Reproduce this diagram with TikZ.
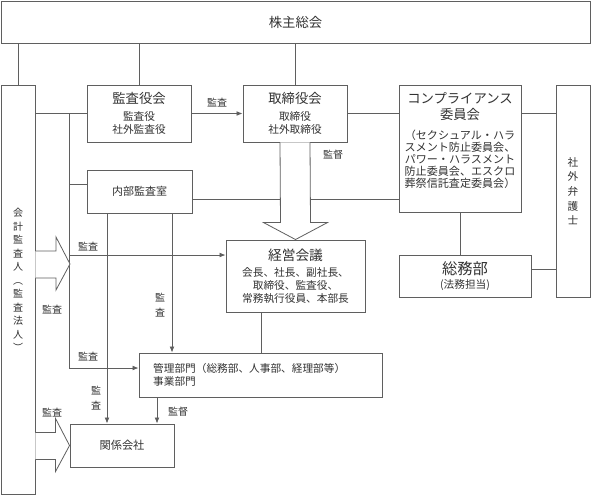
\documentclass[tikz,border=0pt]{standalone}
\usepackage{fontspec}
\setmainfont{Noto Sans CJK JP}
\usetikzlibrary{arrows.meta,calc}
\definecolor{linegray}{RGB}{95,95,95}
\definecolor{textgray}{RGB}{50,50,50}
\tikzset{
  box/.style={draw=linegray, line width=0.7pt, fill=white, inner sep=0pt, align=center,
              text=textgray, font=\fontsize{8}{9.75}\selectfont},
  link/.style={draw=linegray, line width=0.6pt},
  arrow/.style={link, -{Latex[length=4.5pt,width=3.6pt]}},
  hollow/.style={draw=linegray, line width=0.6pt, fill=white},
  tag/.style={text=textgray, font=\fontsize{7.5}{9}\selectfont, inner sep=0pt},
  vtext/.style={text=textgray, align=center, inner sep=0pt}
}
% box given by its corners, in pixels of the drawing
\newcommand{\orgbox}[7][]{%
  \node[box, minimum width={(#5-#3)*0.75pt}, minimum height={(#6-#4)*0.75pt}, #1]
    (#2) at ({(#3+#5)/2},{(#4+#6)/2}) {#7};}

\begin{document}
\begin{tikzpicture}[x=0.75pt, y=-0.75pt]
\useasboundingbox (0,0) rectangle (591,496);

% boxes
\orgbox{top}{1}{1}{590}{43}{\fontsize{10}{12}\selectfont 株主総会}
\orgbox{cpa}{1}{85}{35}{494}{}
\orgbox{kansa}{87}{85}{191}{142}{{\fontsize{10}{12}\selectfont 監査役会}\\[3pt]監査役\\社外監査役}
\orgbox{board}{243}{85}{347}{142}{{\fontsize{10}{12}\selectfont 取締役会}\\[3pt]取締役\\社外取締役}
\orgbox{comp}{399}{85}{521}{212}{}
\orgbox[font=\fontsize{8}{11}\selectfont]{lawyer}{556}{85}{590}{297}{社\\外\\弁\\護\\士}
\orgbox[font=\fontsize{8.25}{10}\selectfont]{audit}{87}{170}{192}{213}{内部監査室}
\orgbox{mgmt}{226}{240}{365}{312}{{\fontsize{10.3}{12}\selectfont 経営会議}\\[2.5pt]会長、社長、副社長、\\取締役、監査役、\\常務執行役員、本部長}
\orgbox{soumu}{399}{255}{531}{297}{{\fontsize{11.5}{13}\selectfont 総務部}\\[1pt](法務担当)}
\orgbox[align=left, text width=161pt, inner xsep=10.5pt]{dept}{139}{353}{382}{397}{管理部門（総務部、人事部、経理部等）\\事業部門}
\orgbox[font=\fontsize{8.4}{10}\selectfont]{affil}{70}{424}{174}{467}{関係会社}

% texts standing apart from their box centre
\node[vtext, font=\fontsize{7.5}{10.1}\selectfont] (cpatext) at (18,280)
  {会\\計\\監\\査\\人\\︵\\監\\査\\法\\人\\︶};
\node[vtext, font=\fontsize{10}{12}\selectfont] (comptitle) at (460,107)
  {コンプライアンス\\委員会};
\node[vtext, font=\fontsize{8.3}{9}\selectfont] (compnote) at (460,159)
  {（セクシュアル・ハラ\\スメント防止委員会、\\パワー・ハラスメント\\防止委員会、エスクロ\\葬祭信託査定委員会）};

% connectors
\draw[link] (cpa.north) -- (cpa.north |- top.south);
\draw[link] (kansa.north) -- (kansa.north |- top.south);
\draw[link] (board.north) -- (board.north |- top.south);
\draw[link] (cpa.east |- kansa.west) -- (kansa.west);
\draw[arrow] (kansa.east) -- (board.west);
\draw[link] (board.east) -- (comp.west |- board.east);
\draw[link] (comp.east |- board.east) -- (lawyer.west |- board.east);

\coordinate (spine) at (affil.west |- kansa.west);
\draw[link] (spine) |- ($(audit.west)+(0,-7.5)$);
\draw[arrow] (spine) |- ($(mgmt.west)+(0,-21)$);
\draw[arrow] (spine) |- ($(dept.west)+(0,-7)$);

\coordinate (auditR) at ($(audit.east)+(0,7.5)$);
\draw[link] (auditR) -- (auditR -| comp.west);
\coordinate (auditL) at ($(audit.south)+(-32.5,0)$);
\coordinate (auditM) at ($(audit.south)+(32.5,0)$);
\draw[arrow] (auditL) -- (auditL |- affil.north);
\draw[arrow] (auditM) -- (auditM |- dept.north);
\coordinate (mgmtB) at ($(mgmt.south)+(-34.5,0)$);
\draw[link] (mgmtB) -- (mgmtB |- dept.north);
\coordinate (deptB) at ($(affil.north)+(35,0)$);
\draw[arrow] (deptB |- dept.south) -- (deptB);
\draw[link] (comp.south) -- (comp.south |- soumu.north);
\coordinate (soumuR) at ($(soumu.east)+(0,-7)$);
\draw[link] (soumuR) -- (soumuR -| lawyer.west);

% hollow arrows
\filldraw[hollow] ($(board.south)+(-15,0)$) -- ($(mgmt.north)+(-15,-17)$) -- ($(mgmt.north)+(-32,-17)$)
  -- (mgmt.north) -- ($(mgmt.north)+(32,-17)$) -- ($(mgmt.north)+(15,-17)$) -- ($(board.south)+(15,0)$);
\coordinate (tipA) at (70,264);
\filldraw[hollow] ($(cpa.east |- tipA)+(0,-13)$) -- ($(tipA)+(-14,-13)$) -- ($(tipA)+(-14,-27)$)
  -- (tipA) -- ($(tipA)+(-14,26)$) -- ($(tipA)+(-14,14)$) -- ($(cpa.east |- tipA)+(0,14)$);
\filldraw[hollow] ($(cpa.east |- affil.west)+(0,-13)$) -- ($(affil.west)+(-14,-13)$) -- ($(affil.west)+(-14,-27)$)
  -- (affil.west) -- ($(affil.west)+(-14,26)$) -- ($(affil.west)+(-14,14)$) -- ($(cpa.east |- affil.west)+(0,14)$);

% labels
\node[tag] (kansaTag) at (217,103) {監査};
\node[tag] (boardTag) at (333,155) {監督};
\node[tag] (mgmtTag) at (88,247) {監査};
\node[tag] (cpaTagA) at (52,310) {監査};
\node[tag, align=center, font=\fontsize{7.5}{11.25}\selectfont] (deptTagA) at (160,305) {監\\査};
\node[tag] (deptTagB) at (88,357) {監査};
\node[tag, align=center, font=\fontsize{7.5}{11.25}\selectfont] (affilTagA) at (96,398) {監\\査};
\node[tag] (affilTagB) at (178,412) {監督};
\node[tag] (cpaTagB) at (52,413) {監査};
\end{tikzpicture}
\end{document}
